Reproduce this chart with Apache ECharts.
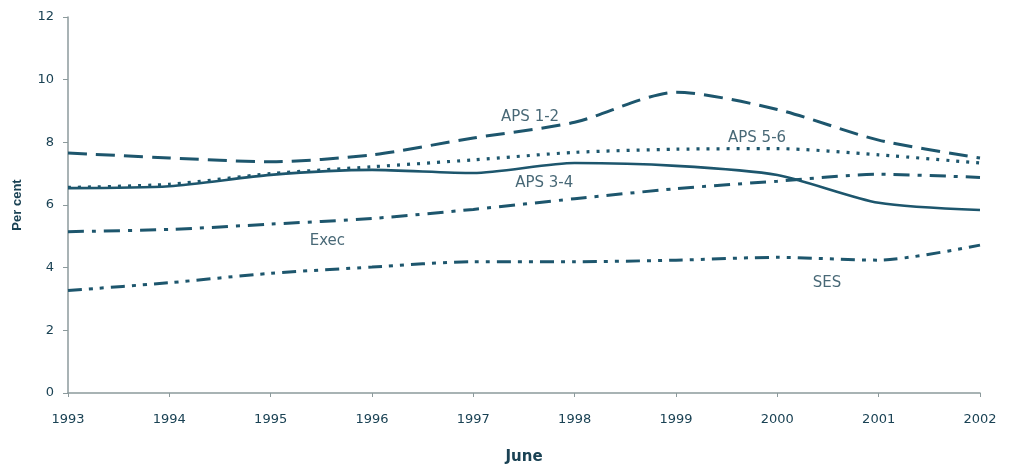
<!DOCTYPE html>
<html>
<head>
<meta charset="utf-8">
<script src="https://cdn.jsdelivr.net/npm/echarts@6/dist/echarts.min.js"></script>
<style>
  html, body { margin: 0; padding: 0; background: #ffffff; }
  #chart { width: 1010px; height: 464px; }
</style>
</head>
<body>
<div id="chart"></div>
<script>
// Years (June of each year)
const years = [1993, 1994, 1995, 1996, 1997, 1998, 1999, 2000, 2001, 2002];

// Per cent values by classification group
const aps12 = [7.66, 7.50, 7.38, 7.60, 8.14, 8.64, 9.60, 9.05, 8.07, 7.50];
const aps56 = [6.56, 6.66, 7.00, 7.22, 7.44, 7.68, 7.78, 7.80, 7.60, 7.34];
const aps34 = [6.54, 6.60, 6.96, 7.12, 7.02, 7.34, 7.25, 6.96, 6.07, 5.84];
const exec  = [5.15, 5.22, 5.39, 5.57, 5.86, 6.20, 6.52, 6.76, 6.98, 6.88];
const ses   = [3.27, 3.52, 3.82, 4.02, 4.19, 4.19, 4.24, 4.33, 4.24, 4.72];

// Y-axis ticks
const yTicks = [0, 2, 4, 6, 8, 10, 12];

// In-plot series names and where they sit: [year, per cent, text]
const seriesLabels = [
  [1997.56, 8.81, 'APS 1-2'],
  [1999.8, 8.14, 'APS 5-6'],
  [1997.7, 6.7, 'APS 3-4'],
  [1995.56, 4.85, 'Exec'],
  [2000.49, 3.51, 'SES']
];

const lineColor = '#1d566d';
const axisColor = '#8c9a9c';
const textColor = '#1a4254';
const font = '"DejaVu Sans", sans-serif';
const boldFont = '"Liberation Sans", Arial, sans-serif';

function pairs(vals) { return years.map((y, i) => [y, vals[i]]); }

function lineSeries(name, vals, type, width) {
  return {
    name: name,
    type: 'line',
    data: pairs(vals),
    smooth: 0.25,
    symbol: 'none',
    lineStyle: { color: lineColor, width: width || 3, type: type, cap: 'butt' },
    z: 3
  };
}

const chart = echarts.init(document.getElementById('chart'), null, { renderer: 'canvas' });

chart.setOption({
  animation: false,
  backgroundColor: '#ffffff',
  grid: { left: 68, right: 30, top: 17, bottom: 71, outerBoundsMode: 'none', containLabel: false },
  xAxis: {
    type: 'value',
    min: years[0],
    max: years[years.length - 1],
    interval: 1,
    name: 'June',
    nameLocation: 'middle',
    nameGap: 57,
    nameTextStyle: { color: textColor, fontFamily: '"DejaVu Sans", sans-serif', fontSize: 15, fontWeight: 'bold' },
    axisLine: { lineStyle: { color: axisColor, width: 1.5 } },
    axisTick: { show: true, length: 4, lineStyle: { color: axisColor } },
    axisLabel: {
      color: textColor, fontFamily: font, fontSize: 13, margin: 20,
      formatter: v => String(v)
    },
    splitLine: { show: false }
  },
  yAxis: {
    type: 'value',
    min: yTicks[0],
    max: yTicks[yTicks.length - 1],
    interval: 2,
    name: 'Per cent',
    nameLocation: 'middle',
    nameGap: 44,
    nameRotate: 90,
    nameTextStyle: { color: textColor, fontFamily: boldFont, fontSize: 13, fontWeight: 'bold' },
    axisLine: { show: true, lineStyle: { color: axisColor, width: 1.5 } },
    axisTick: { show: true, length: 5, lineStyle: { color: axisColor } },
    axisLabel: { color: textColor, fontFamily: font, fontSize: 13, margin: 14 },
    splitLine: { show: false }
  },
  series: [
    lineSeries('APS 1-2', aps12, [19, 9]),
    lineSeries('APS 5-6', aps56, [3, 7], 3.2),
    lineSeries('APS 3-4', aps34, 'solid', 2.6),
    lineSeries('Exec', exec, [16, 8, 4, 8]),
    lineSeries('SES', ses, [14, 7, 4, 7, 4, 7]),
    {
      name: 'labels',
      type: 'scatter',
      symbolSize: 0,
      data: seriesLabels.map(d => ({ value: [d[0], d[1]], name: d[2] })),
      label: {
        show: true,
        position: 'inside',
        formatter: p => p.name,
        color: textColor,
        fontFamily: font,
        fontSize: 15
      },
      z: 5
    }
  ]
});
</script>
</body>
</html>
